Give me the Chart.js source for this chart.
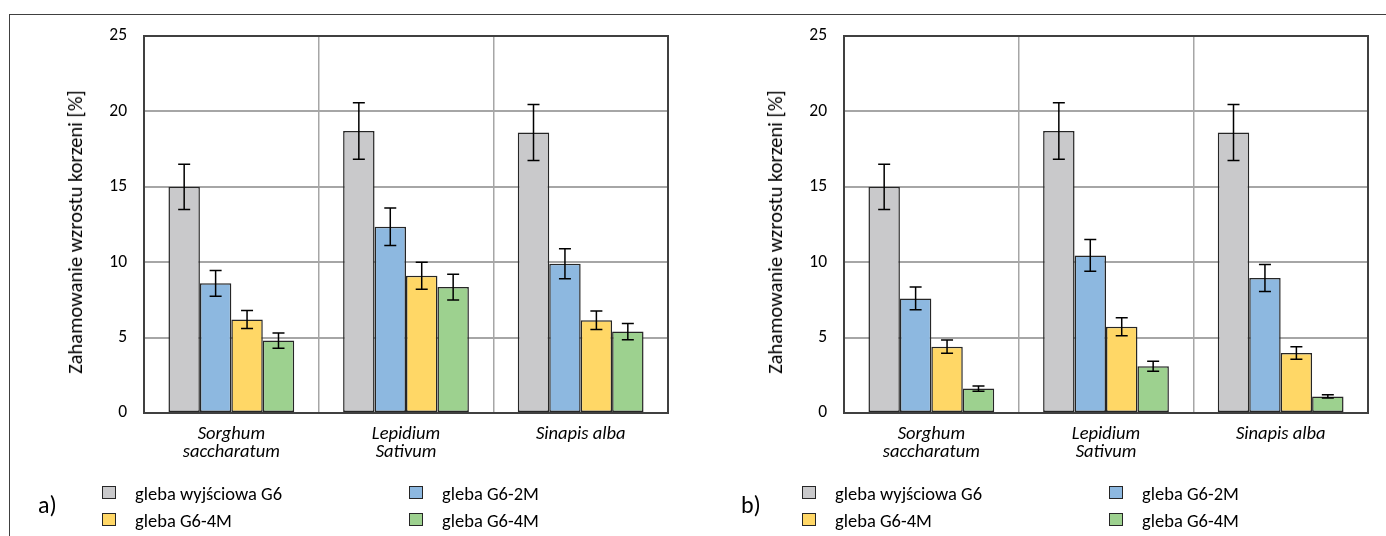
<!DOCTYPE html>
<html lang="pl">
<head>
<meta charset="UTF-8">
<title>Zahamowanie wzrostu korzeni</title>
<script src="https://cdn.jsdelivr.net/npm/chart.js"></script>
<style>
  body { margin: 0; background: #fff; font-family: Carlito, Lato, sans-serif; }
  #wrap { position: relative; width: 1386px; height: 536px; overflow: hidden; }
  #frame { position: absolute; left: 9px; top: 14px; width: 1400px; height: 600px;
           border-top: 1px solid #404040; border-left: 1px solid #404040; }
  .panel { position: absolute; top: 0; width: 693px; height: 536px; }
  .panel canvas { position: absolute; left: 0; top: 0; }
  .tag { position: absolute; top: 490px; font-size: 24px; color: #000; }
  .ytitle { position: absolute; top: 232px; font-size: 20.5px; color: #000; white-space: nowrap;
            transform: translate(-50%, -50%) rotate(-90deg); line-height: 24px; }
  .leg { position: absolute; font-size: 18.5px; color: #000; white-space: nowrap; line-height: 20px; }
  .leg i { position: absolute; left: -33px; top: 2px; width: 14px; height: 13px;
           border: 1px solid #262626; box-sizing: border-box; }
</style>
</head>
<body>
<div id="wrap">
  <div id="frame"></div>
  <div class="panel" style="left:0"><canvas id="chartA" width="693" height="536"></canvas></div>
  <div class="panel" style="left:700px"><canvas id="chartB" width="693" height="536"></canvas></div>
</div>
<script>
const categories = [['Sorghum', 'saccharatum'], ['Lepidium', 'Sativum'], 'Sinapis alba'];
const seriesNames = ['gleba wyjściowa G6', 'gleba G6-2M', 'gleba G6-4M', 'gleba G6-4M'];
const seriesColors = ['#c9c9cb', '#8db8e0', '#ffd766', '#9dd18f'];
const yTicks = [0, 5, 10, 15, 20, 25];
const yTitle = 'Zahamowanie wzrostu korzeni [%]';

// panel a)
const aG6 = [15.0, 18.7, 18.6];
const aG6_2M = [8.6, 12.35, 9.9];
const aG6_4M = [6.2, 9.1, 6.15];
const aG6_4Mb = [4.8, 8.35, 5.4];
const aG6Err = [1.5, 1.88, 1.85];
const aG6_2MErr = [0.85, 1.24, 1.0];
const aG6_4MErr = [0.6, 0.9, 0.61];
const aG6_4MbErr = [0.5, 0.85, 0.54];

// panel b)
const bG6 = [15.0, 18.7, 18.6];
const bG6_2M = [7.6, 10.45, 8.95];
const bG6_4M = [4.4, 5.72, 3.98];
const bG6_4Mb = [1.62, 3.1, 1.1];
const bG6Err = [1.5, 1.88, 1.85];
const bG6_2MErr = [0.76, 1.05, 0.9];
const bG6_4MErr = [0.44, 0.59, 0.41];
const bG6_4MbErr = [0.17, 0.33, 0.11];

const FONT = 'Carlito, Lato, sans-serif';

const errorBars = {
  id: 'errorBars',
  afterDatasetsDraw(chart) {
    const ctx = chart.ctx;
    const y = chart.scales.y;
    ctx.save();
    ctx.strokeStyle = '#000';
    ctx.lineWidth = 1.5;
    chart.data.datasets.forEach((ds, i) => {
      chart.getDatasetMeta(i).data.forEach((bar, j) => {
        const v = ds.data[j], e = ds.errors[j];
        const top = y.getPixelForValue(v + e), bot = y.getPixelForValue(v - e);
        ctx.beginPath();
        ctx.moveTo(bar.x, top); ctx.lineTo(bar.x, bot);
        ctx.moveTo(bar.x - 6, top); ctx.lineTo(bar.x + 6, top);
        ctx.moveTo(bar.x - 6, bot); ctx.lineTo(bar.x + 6, bot);
        ctx.stroke();
      });
    });
    ctx.restore();
  }
};

const plotBorder = {
  id: 'plotBorder',
  beforeDatasetsDraw(chart) {
    const {ctx, chartArea: a} = chart;
    ctx.save();
    ctx.strokeStyle = '#404040';
    ctx.lineWidth = 2;
    ctx.strokeRect(a.left, a.top, a.right - a.left, a.bottom - a.top);
    ctx.restore();
  }
};

function makeChart(id, values, errors) {
  return new Chart(document.getElementById(id), {
    type: 'bar',
    data: {
      labels: categories,
      datasets: values.map((vals, i) => ({
        label: seriesNames[i],
        data: vals,
        errors: errors[i],
        backgroundColor: seriesColors[i],
        borderColor: '#262626',
        borderWidth: 1.5,
        borderSkipped: false,
        categoryPercentage: 0.72,
        barPercentage: 1.0
      }))
    },
    options: {
      responsive: false,
      animation: false,
      layout: { padding: { left: 0, right: 25, top: 36, bottom: 0 } },
      plugins: { legend: { display: false }, tooltip: { enabled: false } },
      scales: {
        x: {
          grid: { color: '#a6a6a6', lineWidth: 1.5, drawTicks: false, offset: true },
          border: { display: false },
          ticks: { color: '#000', padding: 12, font: { family: FONT, size: 18.5, style: 'italic', lineHeight: 1.0 } },
          afterFit(s) { s.height = 123; }
        },
        y: {
          min: 0, max: 25,
          afterBuildTicks(s) { s.ticks = yTicks.map(v => ({ value: v })); },
          grid: { color: '#a6a6a6', lineWidth: 2, drawTicks: false },
          border: { display: false },
          ticks: { color: '#000', padding: 17, font: { family: FONT, size: 17.5 } },
          afterFit(s) { s.width = 144; }
        }
      }
    },
    plugins: [plotBorder, errorBars]
  });
}

makeChart('chartA', [aG6, aG6_2M, aG6_4M, aG6_4Mb], [aG6Err, aG6_2MErr, aG6_4MErr, aG6_4MbErr]);
makeChart('chartB', [bG6, bG6_2M, bG6_4M, bG6_4Mb], [bG6Err, bG6_2MErr, bG6_4MErr, bG6_4MbErr]);

// legends, axis titles and panel tags
const legendPos = [[135, 484], [442, 484], [135, 511], [442, 511]];
const wrap = document.getElementById('wrap');
[['a)', 0], ['b)', 700]].forEach(([tag, off]) => {
  const t = document.createElement('div');
  t.className = 'tag'; t.textContent = tag; t.style.left = (38 + off + (off ? 3 : 0)) + 'px';
  wrap.appendChild(t);
  const yt = document.createElement('div');
  yt.className = 'ytitle'; yt.textContent = yTitle; yt.style.left = (75 + off) + 'px';
  wrap.appendChild(yt);
  seriesNames.forEach((name, i) => {
    const d = document.createElement('div');
    d.className = 'leg';
    d.style.left = (legendPos[i][0] + off) + 'px';
    d.style.top = legendPos[i][1] + 'px';
    d.innerHTML = '<i style="background:' + seriesColors[i] + '"></i>';
    d.appendChild(document.createTextNode(name));
    wrap.appendChild(d);
  });
});
</script>
</body>
</html>
